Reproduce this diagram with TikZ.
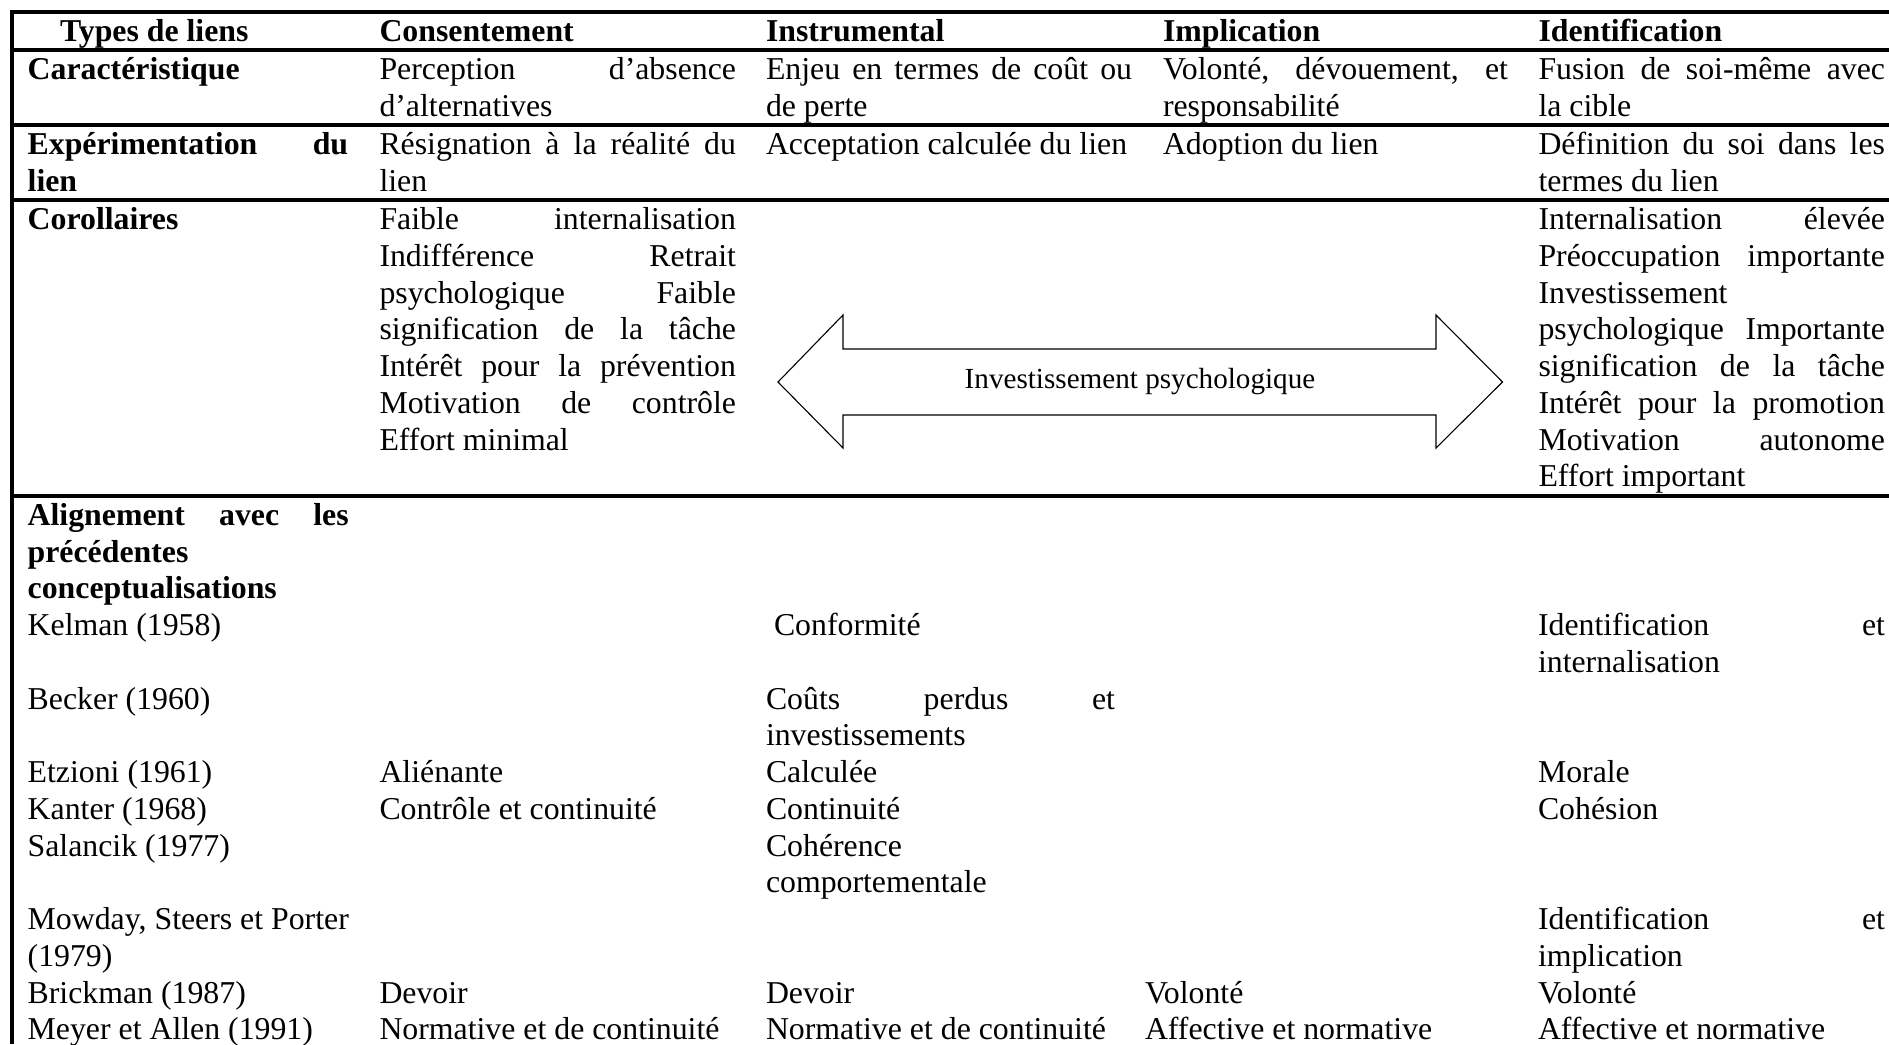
\documentclass[tikz,border=0pt]{standalone}
\usepackage{fontspec}
\setmainfont{Liberation Serif}
\newlength\px
\setlength\px{0.37736pt}
\newcommand\JL[1]{{\spaceskip=0pt\xspaceskip=0pt\makebox[\hsize][s]{#1}}}
\begin{document}
\begin{tikzpicture}[x=0.37736pt,y=-0.37736pt,
  txt/.style={inner sep=0pt,outer sep=0pt,anchor=base west,align=left,font=\fontsize{12}{13.87}\selectfont,
    execute at begin node={\spaceskip=0pt\xspaceskip=0pt}},
  bld/.style={txt,font=\fontsize{12}{13.87}\selectfont\bfseries},
  rule/.style={line width=3.1\px},
  arr/.style={line width=1.1\px,line join=miter}]
\useasboundingbox (0,0) rectangle (1889,1044);
% table rules
\draw[rule] (12,12) -- (1889,12);
\draw[rule] (12,50) -- (1889,50);
\draw[rule] (12,125) -- (1889,125);
\draw[rule] (12,200) -- (1889,200);
\draw[rule] (12,496) -- (1889,496);
\draw[rule] (12,10.45) -- (12,1044);
% header
\node[bld] (h1) at (60,41.5) {Types de liens};
\node[bld] (h2) at (379.5,41.5) {Consentement};
\node[bld] (h3) at (766,41.5) {Instrumental};
\node[bld] (h4) at (1163,41.5) {Implication};
\node[bld] (h5) at (1538.5,41.5) {Identification};
% Caracteristique
\node[bld] (r1c1) at (27.7,79.5) {Caractéristique};
\node[txt,text width=356.5\px] (r1c2) at (379.5,79.5) {\JL{Perception d’absence}\\d’alternatives};
\node[txt,text width=366\px] (r1c3) at (766,79.5) {\JL{Enjeu en termes de coût ou}\\de perte};
\node[txt,text width=345\px] (r1c4) at (1163,79.5) {\JL{Volonté, dévouement, et}\\responsabilité};
\node[txt,text width=346.5\px] (r1c5) at (1538.5,79.5) {\JL{Fusion de soi-même avec}\\la cible};
% Experimentation
\node[bld,text width=320.5\px] (r2c1) at (27.7,154.5) {\JL{Expérimentation du}\\lien};
\node[txt,text width=356.5\px] (r2c2) at (379.5,154.5) {\JL{Résignation à la réalité du}\\lien};
\node[txt] (r2c3) at (766,154.5) {Acceptation calculée du lien};
\node[txt] (r2c4) at (1163,154.5) {Adoption du lien};
\node[txt,text width=346.5\px] (r2c5) at (1538.5,154.5) {\JL{Définition du soi dans les}\\termes du lien};
% Corollaires
\node[bld] (r3c1) at (27.7,229.5) {Corollaires};
\node[txt,text width=356.5\px] (r3c2) at (379.5,229.5) {\JL{Faible internalisation}\\\JL{Indifférence Retrait}\\\JL{psychologique Faible}\\\JL{signification de la tâche}\\\JL{Intérêt pour la prévention}\\\JL{Motivation de contrôle}\\Effort minimal};
\node[txt,text width=346.5\px] (r3c5) at (1538.5,229.5) {\JL{Internalisation élevée}\\\JL{Préoccupation importante}\\Investissement\\\JL{psychologique Importante}\\\JL{signification de la tâche}\\\JL{Intérêt pour la promotion}\\\JL{Motivation autonome}\\Effort important};
% arrow
\draw[arr] (778,382) -- (843,315) -- (843,349) -- (1436,349) -- (1436,315) -- (1502.5,382) -- (1436,448) -- (1436,415) -- (843,415) -- (843,448) -- cycle;
\node[txt,anchor=center,font=\fontsize{11}{12.7}\selectfont] (arrlbl) at (1140,382) {Investissement psychologique};
% Alignement section
\node[bld,text width=321\px] (a1) at (27.7,525.3) {\JL{Alignement avec les}\\précédentes\\conceptualisations};
% Kelman
\node[txt] (k1) at (27.7,635.55) {Kelman (1958)};
\node[txt] (k3) at (774,635.55) {Conformité};
\node[txt,text width=347\px] (k5) at (1538,635.55) {\JL{Identification et}\\internalisation};
% Becker
\node[txt] (b1) at (27.7,709.05) {Becker (1960)};
\node[txt,text width=349\px] (b3) at (766,709.05) {\JL{Coûts perdus et}\\investissements};
% Etzioni
\node[txt] (e1) at (27.7,782.55) {Etzioni (1961)};
\node[txt] (e2) at (379.5,782.55) {Aliénante};
\node[txt] (e3) at (766,782.55) {Calculée};
\node[txt] (e5) at (1538,782.55) {Morale};
% Kanter
\node[txt] (ka1) at (27.7,819.3) {Kanter (1968)};
\node[txt] (ka2) at (379.5,819.3) {Contrôle et continuité};
\node[txt] (ka3) at (766,819.3) {Continuité};
\node[txt] (ka5) at (1538,819.3) {Cohésion};
% Salancik
\node[txt] (s1) at (27.7,856.05) {Salancik (1977)};
\node[txt,text width=349\px] (s3) at (766,856.05) {Cohérence\\comportementale};
% Mowday
\node[txt,text width=340\px] (m1) at (27.7,929.55) {Mowday, Steers et Porter\\(1979)};
\node[txt,text width=347\px] (m5) at (1538,929.55) {\JL{Identification et}\\implication};
% Brickman
\node[txt] (br1) at (27.7,1003.05) {Brickman (1987)};
\node[txt] (br2) at (379.5,1003.05) {Devoir};
\node[txt] (br3) at (766,1003.05) {Devoir};
\node[txt] (br4) at (1145,1003.05) {Volonté};
\node[txt] (br5) at (1538,1003.05) {Volonté};
% Meyer et Allen
\node[txt] (my1) at (27.7,1039.8) {Meyer et Allen (1991)};
\node[txt] (my2) at (379.5,1039.8) {Normative et de continuité};
\node[txt] (my3) at (766,1039.8) {Normative et de continuité};
\node[txt] (my4) at (1145,1039.8) {Affective et normative};
\node[txt] (my5) at (1538,1039.8) {Affective et normative};
\end{tikzpicture}
\end{document}
